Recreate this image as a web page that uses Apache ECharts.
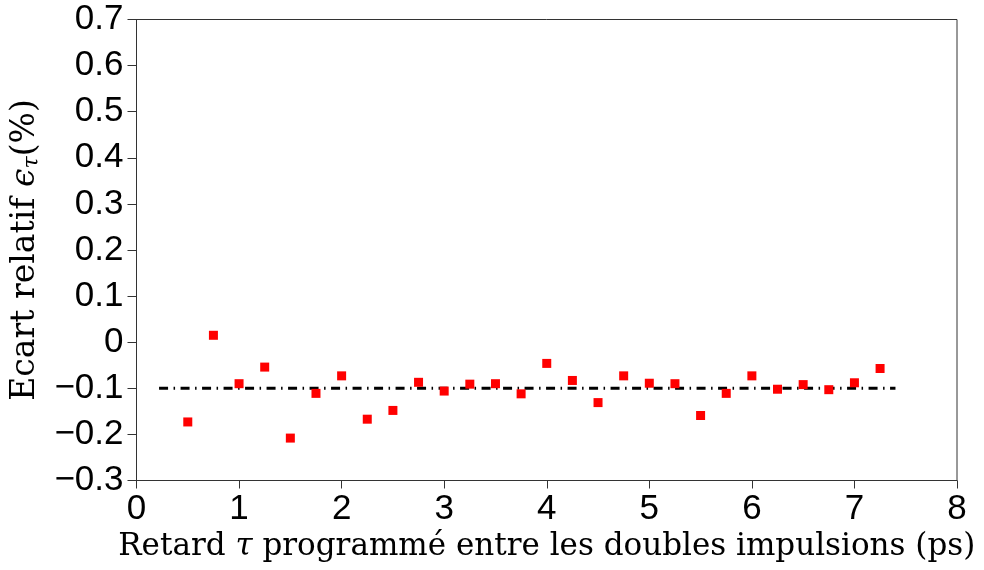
<!DOCTYPE html>
<html>
<head>
<meta charset="utf-8">
<script src="https://cdn.jsdelivr.net/npm/echarts@6/dist/echarts.min.js"></script>
<style>
html,body{margin:0;padding:0;background:#fff;}
#chart{width:984px;height:570px;}
</style>
</head>
<body>
<div id="chart"></div>
<script>
// Delay tau (ps)
const delays = [0.5, 0.75, 1.0, 1.25, 1.5, 1.75, 2.0, 2.25, 2.5, 2.75, 3.0, 3.25, 3.5, 3.75, 4.0,
                4.25, 4.5, 4.75, 5.0, 5.25, 5.5, 5.75, 6.0, 6.25, 6.5, 6.75, 7.0, 7.25];
// Relative deviation (%)
const deviations = [-0.173, 0.015, -0.090, -0.054, -0.208, -0.111, -0.073, -0.167, -0.148, -0.087, -0.106, -0.091, -0.090, -0.112, -0.046,
                    -0.083, -0.131, -0.073, -0.089, -0.090, -0.159, -0.111, -0.073, -0.102, -0.092, -0.103, -0.088, -0.057];
// Mean reference line
const meanLineX = [0.22, 7.40];
const meanLineY = [-0.1, -0.1];

const chart = echarts.init(document.getElementById('chart'));
const serif = '"DejaVu Serif"';
const sans = '"Liberation Sans", Arial, Helvetica, sans-serif';
const fs = 31;
chart.setOption({
  animation: false,
  backgroundColor: '#fff',
  grid: {left: 136.5, right: 27, top: 19.5, bottom: 89.5, show: true, borderColor: '#333', borderWidth: 1, backgroundColor: 'transparent'},
  xAxis: {
    type: 'value', min: 0, max: 8, interval: 1,
    axisLine: {show: true, onZero: false, lineStyle: {color: '#333', width: 1}},
    axisTick: {show: true, inside: false, length: 8, lineStyle: {color: '#333', width: 1}},
    splitLine: {show: false},
    axisLabel: {color: '#000', fontFamily: sans, fontSize: 35, margin: 11},
    name: '{a|Retard }{m|τ}{a| programmé entre les doubles impulsions (ps)}', nameLocation: 'middle', nameGap: 49,
    nameTextStyle: {color: '#000', fontFamily: serif, fontSize: fs,
      rich: {
        a: {fontFamily: serif, fontSize: fs, color: '#000'},
        m: {fontFamily: serif, fontSize: fs, color: '#000', fontStyle: 'italic'}
      }}
  },
  yAxis: {
    type: 'value', min: -0.3, max: 0.7, interval: 0.1,
    axisLine: {show: true, onZero: false, lineStyle: {color: '#333', width: 1}},
    axisTick: {show: true, inside: false, length: 9, lineStyle: {color: '#333', width: 1}},
    splitLine: {show: false},
    axisLabel: {color: '#000', fontFamily: sans, fontSize: 35, margin: 13,
      formatter: v => { const r = Math.round(v * 10) / 10; if (r === 0) return '0'; return r.toFixed(1).replace('-', '\u2212'); }},
    name: '{a|Ecart relatif }{m|ϵ}{s|τ}{a|(%)}', nameLocation: 'middle', nameGap: 82, nameRotate: 90,
    nameTextStyle: {color: '#000', fontFamily: serif, fontSize: 33,
      rich: {
        a: {fontFamily: serif, fontSize: 33, color: '#000'},
        m: {fontFamily: serif, fontSize: 33, color: '#000', fontStyle: 'italic'},
        s: {fontFamily: serif, fontSize: 22, color: '#000', fontStyle: 'italic', padding: [14, 0, 0, 0]}
      }}
  },
  series: [
    {
      type: 'line', data: meanLineX.map((x, i) => [x, meanLineY[i]]),
      showSymbol: false, symbol: 'none',
      lineStyle: {color: '#000', width: 3, type: [9, 5.5, 1.5, 5.5]},
      z: 2
    },
    {
      type: 'scatter', data: delays.map((x, i) => [x, deviations[i]]),
      symbol: 'rect', symbolSize: 9,
      itemStyle: {color: '#ff0000', opacity: 1},
      z: 3
    }
  ]
});
</script>
</body>
</html>
